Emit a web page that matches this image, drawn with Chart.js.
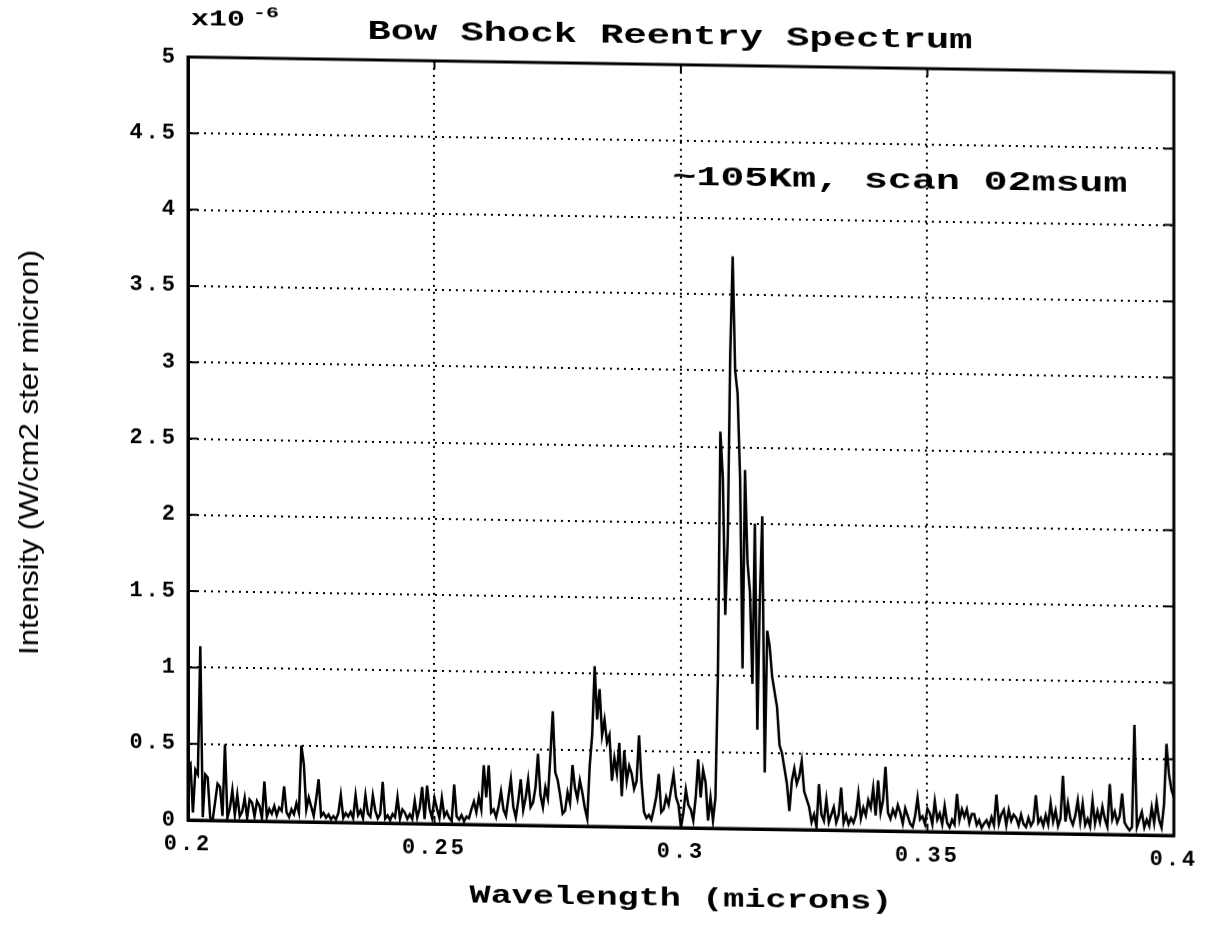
<!DOCTYPE html>
<html>
<head>
<meta charset="utf-8">
<title>Bow Shock Reentry Spectrum</title>
<script src="https://cdn.jsdelivr.net/npm/chart.js@4/dist/chart.umd.min.js"></script>
<style>
  html, body { margin: 0; padding: 0; background: #fff; }
  /* the scanned page is slightly skewed: right side sits ~15px lower */
  #spectrumChart { display: block; transform: skewY(0.9deg); transform-origin: 188px 0; }
</style>
</head>
<body>
<canvas id="spectrumChart" width="1210" height="926"></canvas>
<script>
// Wavelength grid of the scan (microns)
const waveStart = 0.2;
const waveStep = 0.0005;

// Intensity, x10^-6 W/cm2 ster micron (401 samples)
const intensity = [
    0.35, 0.37, 0.05, 0.33, 0.30, 1.14, 0.02, 0.30, 0.28, 0.02,
    0.00, 0.12, 0.24, 0.22, 0.03, 0.50, 0.02, 0.08, 0.20, 0.04,
    0.17, 0.03, 0.06, 0.15, 0.02, 0.14, 0.12, 0.03, 0.13, 0.10,
    0.02, 0.26, 0.03, 0.08, 0.05, 0.10, 0.04, 0.09, 0.07, 0.23,
    0.06, 0.03, 0.08, 0.05, 0.12, 0.06, 0.50, 0.38, 0.08, 0.16,
    0.10, 0.04, 0.15, 0.28, 0.04, 0.06, 0.03, 0.05, 0.02, 0.04,
    0.02, 0.06, 0.18, 0.03, 0.06, 0.04, 0.07, 0.03, 0.18, 0.05,
    0.08, 0.03, 0.18, 0.06, 0.04, 0.18, 0.08, 0.03, 0.06, 0.27,
    0.03, 0.05, 0.02, 0.06, 0.04, 0.17, 0.03, 0.09, 0.07, 0.03,
    0.06, 0.03, 0.15, 0.04, 0.10, 0.24, 0.03, 0.25, 0.10, 0.04,
    0.17, 0.10, 0.04, 0.17, 0.05, 0.08, 0.04, 0.02, 0.26, 0.05,
    0.03, 0.06, 0.02, 0.05, 0.04, 0.10, 0.15, 0.08, 0.18, 0.10,
    0.39, 0.18, 0.39, 0.08, 0.10, 0.05, 0.12, 0.22, 0.10, 0.06,
    0.18, 0.30, 0.12, 0.05, 0.16, 0.30, 0.10, 0.18, 0.30, 0.12,
    0.15, 0.25, 0.47, 0.20, 0.12, 0.25, 0.18, 0.45, 0.75, 0.35,
    0.30, 0.20, 0.08, 0.10, 0.22, 0.15, 0.40, 0.25, 0.18, 0.30,
    0.22, 0.12, 0.05, 0.40, 0.60, 1.05, 0.70, 0.90, 0.60, 0.70,
    0.55, 0.60, 0.30, 0.45, 0.35, 0.55, 0.20, 0.50, 0.30, 0.40,
    0.35, 0.25, 0.30, 0.60, 0.30, 0.10, 0.06, 0.08, 0.05, 0.12,
    0.20, 0.35, 0.10, 0.12, 0.20, 0.15, 0.25, 0.35, 0.20, 0.15,
    0.00, 0.10, 0.25, 0.15, 0.12, 0.05, 0.20, 0.45, 0.20, 0.38,
    0.30, 0.05, 0.20, 0.05, 0.20, 1.00, 2.60, 2.30, 1.40, 1.90,
    3.10, 3.75, 3.00, 2.85, 2.30, 1.05, 2.35, 1.75, 1.55, 0.95,
    2.00, 0.65, 1.50, 2.05, 0.37, 1.30, 1.20, 1.00, 0.90, 0.80,
    0.55, 0.50, 0.40, 0.30, 0.12, 0.32, 0.40, 0.30, 0.35, 0.45,
    0.25, 0.20, 0.15, 0.05, 0.10, 0.02, 0.30, 0.10, 0.06, 0.20,
    0.05, 0.10, 0.15, 0.05, 0.10, 0.28, 0.05, 0.10, 0.04, 0.08,
    0.05, 0.10, 0.24, 0.08, 0.15, 0.10, 0.20, 0.15, 0.28, 0.10,
    0.33, 0.12, 0.20, 0.42, 0.12, 0.08, 0.14, 0.10, 0.17, 0.12,
    0.05, 0.15, 0.10, 0.05, 0.03, 0.10, 0.22, 0.08, 0.10, 0.05,
    0.15, 0.12, 0.05, 0.20, 0.08, 0.12, 0.05, 0.17, 0.06, 0.03,
    0.08, 0.05, 0.25, 0.08, 0.15, 0.10, 0.15, 0.06, 0.12, 0.12,
    0.05, 0.08, 0.03, 0.06, 0.08, 0.04, 0.10, 0.05, 0.25, 0.06,
    0.12, 0.15, 0.05, 0.15, 0.08, 0.12, 0.10, 0.05, 0.12, 0.06,
    0.04, 0.10, 0.05, 0.08, 0.25, 0.07, 0.10, 0.05, 0.12, 0.06,
    0.20, 0.08, 0.15, 0.05, 0.10, 0.38, 0.08, 0.20, 0.10, 0.06,
    0.12, 0.22, 0.08, 0.20, 0.06, 0.10, 0.05, 0.22, 0.07, 0.15,
    0.08, 0.18, 0.10, 0.05, 0.33, 0.10, 0.15, 0.08, 0.12, 0.27,
    0.08, 0.05, 0.03, 0.05, 0.72, 0.05, 0.10, 0.15, 0.05, 0.10,
    0.06, 0.18, 0.08, 0.22, 0.10, 0.05, 0.20, 0.60, 0.40, 0.30,
    0.25
];

const xTickLabels = ['0.2', '0.25', '0.3', '0.35', '0.4'];
const yTickLabels = ['0', '0.5', '1', '1.5', '2', '2.5', '3', '3.5', '4', '4.5', '5'];

const chartTitle = 'Bow Shock Reentry Spectrum';
const exponentBase = 'x10';
const exponentPower = '-6';
const runNote = '~105Km, scan 02msum';
const xTitle = 'Wavelength (microns)';
const yTitle = 'Intensity (W/cm2 ster micron)';

const points = intensity.map((v, i) => ({ x: +(waveStart + i * waveStep).toFixed(4), y: v }));

const monoFont = '"Liberation Mono", "DejaVu Sans Mono", monospace';

// text stretched to a given width (the plotter font is very wide)
function drawWideText(ctx, text, x, y, width, font, angle) {
    ctx.save();
    ctx.font = font;
    ctx.letterSpacing = '0px';
    const w = ctx.measureText(text).width;
    ctx.translate(x, y);
    if (angle) ctx.rotate(angle);
    ctx.scale(width / w, 1);
    ctx.textAlign = 'center';
    ctx.textBaseline = 'middle';
    ctx.fillStyle = '#000';
    ctx.fillText(text, 0, 0);
    ctx.restore();
}

const plotterPlugin = {
    id: 'plotterPlugin',
    beforeDraw: (chart) => {
        // wider spacing for tick labels
        chart.ctx.letterSpacing = '3px';
    },
    afterDraw: (chart) => {
        const ctx = chart.ctx;
        ctx.letterSpacing = '0px';
        const area = chart.chartArea;
        const xScale = chart.scales.x;
        const yScale = chart.scales.y;

        ctx.save();
        ctx.strokeStyle = '#000';
        ctx.lineWidth = 3;
        ctx.strokeRect(area.left, area.top, area.right - area.left, area.bottom - area.top);

        // inward tick marks
        ctx.lineWidth = 2;
        ctx.beginPath();
        yScale.ticks.forEach(t => {
            const y = yScale.getPixelForValue(t.value);
            ctx.moveTo(area.left, y);
            ctx.lineTo(area.left + 10, y);
            ctx.moveTo(area.right - 10, y);
            ctx.lineTo(area.right, y);
        });
        xScale.ticks.forEach(t => {
            const x = xScale.getPixelForValue(t.value);
            ctx.moveTo(x, area.top);
            ctx.lineTo(x, area.top + 8);
            ctx.moveTo(x, area.bottom);
            ctx.lineTo(x, area.bottom - 8);
        });
        ctx.stroke();
        ctx.restore();

        drawWideText(ctx, exponentBase, 218, 19, 54, 'bold 22px ' + monoFont);
        drawWideText(ctx, exponentPower, 266, 12, 26, 'bold 15px ' + monoFont);
        drawWideText(ctx, chartTitle, 670, 29, 605, 'bold 27px ' + monoFont);
        drawWideText(ctx, runNote, 900, 170, 455, 'bold 27px ' + monoFont);
        drawWideText(ctx, xTitle, 681, 891, 423, 'bold 26px ' + monoFont);
        drawWideText(ctx, yTitle, 30, 455, 405,
            '28px "Liberation Sans Narrow", "Liberation Sans", sans-serif', -Math.PI / 2);
    }
};

const spectrumCanvas = document.getElementById('spectrumChart');
const spectrumChart = new Chart(spectrumCanvas.getContext('2d'), {
    type: 'line',
    data: {
        datasets: [{
            data: points,
            borderColor: '#000000',
            borderWidth: 2.5,
            pointRadius: 0,
            tension: 0,
            fill: false
        }]
    },
    options: {
        responsive: false,
        maintainAspectRatio: false,
        animation: false,
        events: [],
        layout: {
            padding: { left: 0, right: 36, top: 57, bottom: 0 }
        },
        plugins: {
            legend: { display: false },
            title: { display: false },
            tooltip: { enabled: false }
        },
        scales: {
            x: {
                type: 'linear',
                min: 0.2,
                max: 0.4,
                ticks: {
                    stepSize: 0.05,
                    autoSkip: false,
                    maxRotation: 0,
                    padding: 11,
                    color: '#000',
                    font: { family: monoFont, size: 22, weight: 'bold' },
                    callback: (value, index) => xTickLabels[index] ?? value
                },
                grid: { color: '#000', lineWidth: 2, drawTicks: false },
                border: { display: true, color: '#000', width: 3, dash: [2, 5] },
                afterFit: (scale) => { scale.height = 106; }
            },
            y: {
                min: 0,
                max: 5,
                ticks: {
                    stepSize: 0.5,
                    padding: 10,
                    color: '#000',
                    font: { family: monoFont, size: 22, weight: 'bold' },
                    callback: (value, index) => yTickLabels[index] ?? value
                },
                grid: { color: '#000', lineWidth: 2, drawTicks: false },
                border: { display: true, color: '#000', width: 3, dash: [2, 5] },
                afterFit: (scale) => { scale.width = 188; }
            }
        }
    },
    plugins: [plotterPlugin]
});
</script>
</body>
</html>
